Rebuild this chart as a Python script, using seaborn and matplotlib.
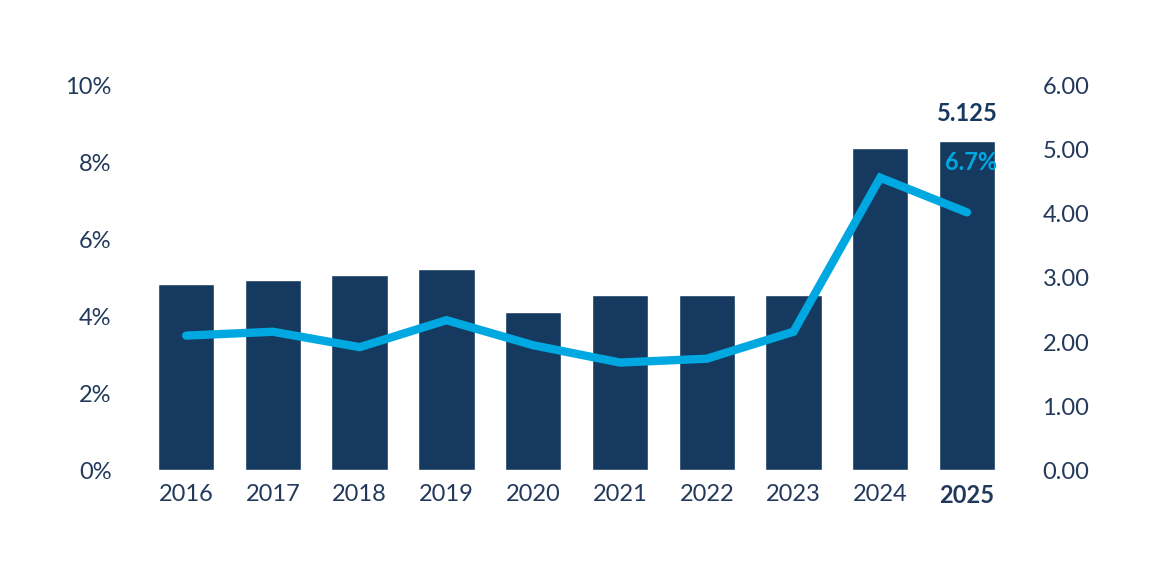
import matplotlib
matplotlib.use("Agg")
import matplotlib.pyplot as plt
import seaborn as sns
import pandas as pd

years = ["2016","2017","2018","2019","2020","2021","2022","2023","2024","2025"]
bar_values = [2.90, 2.97, 3.05, 3.13, 2.46, 2.73, 2.73, 2.73, 5.02, 5.125]
line_pct = [3.5, 3.6, 3.2, 3.9, 3.25, 2.8, 2.9, 3.6, 7.6, 6.7]
left_ticks = ["0%","2%","4%","6%","8%","10%"]
right_ticks = ["0.00","1.00","2.00","3.00","4.00","5.00","6.00"]

navy = "#163a5f"; cyan = "#00a8e1"; txt = "#23395b"
sns.set_theme(style="white")
plt.rcParams['font.family'] = ['Lato', 'DejaVu Sans']

df = pd.DataFrame({"year": years, "val": bar_values, "pct": line_pct})
fig = plt.figure(figsize=(11.61, 5.88), dpi=100)
ax = fig.add_axes([0.12, 0.2, 0.754, 0.655])
sns.barplot(data=df, x="year", y="val", color=navy, width=0.65, saturation=1, ax=ax)
ax.set_ylim(0, 6)
ax.set_xlim(-0.54, 9.55)
ax2 = ax.twinx()
ax.yaxis.tick_right()
ax.set_yticks(range(7)); ax.set_yticklabels(right_ticks)
ax2.plot(range(10), df["pct"], color=cyan, lw=6, solid_joinstyle="miter")
ax2.set_ylim(0, 10)
ax2.yaxis.tick_left()
ax2.set_yticks(range(0, 11, 2)); ax2.set_yticklabels(left_ticks)
for a in (ax, ax2):
    for s in a.spines.values(): s.set_visible(False)
    a.set_xlabel(""); a.set_ylabel("")
    a.tick_params(length=0, labelsize=17, labelcolor=txt, pad=20)
ax.tick_params(axis="x", pad=10)
ax.set_xticks(range(10)); ax.set_xticklabels(years)
ax.get_xticklabels()[-1].set_fontweight("bold")
ax.text(9, bar_values[-1] + 0.25, "5.125", ha="center", va="bottom", fontsize=17, fontweight="bold", color=navy)
ax2.text(9.05, line_pct[-1] + 1.0, "6.7%", ha="center", va="bottom", fontsize=17, fontweight="bold", color=cyan)
fig.savefig("out.png", dpi=100)
